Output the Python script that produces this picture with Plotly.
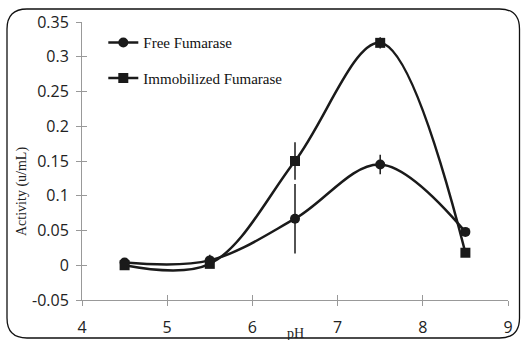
import plotly.graph_objects as go

ph = [4.5, 5.5, 6.5, 7.5, 8.5]
free_act = [0.004, 0.007, 0.067, 0.145, 0.048]
free_err = [0.002, 0.008, 0.05, 0.014, 0.003]
immo_act = [0.0, 0.002, 0.15, 0.32, 0.018]
immo_err = [0.002, 0.004, 0.027, 0.008, 0.002]
x_ticks = [4, 5, 6, 7, 8, 9]
y_ticks = [-0.05, 0, 0.05, 0.1, 0.15, 0.2, 0.25, 0.3, 0.35]
y_labels = ["-0.05", "0", "0.05", "0.1", "0.15", "0.2", "0.25", "0.3", "0.35"]

W, H = 521, 340
L, R, T, B = 82, 13, 22, 40
pw, ph_ = W - L - R, H - T - B

fig = go.Figure()
fig.add_trace(go.Scatter(
    x=ph, y=free_act, name="Free Fumarase", mode="lines+markers",
    line=dict(color="#1a1a1a", width=2.5, shape="spline", smoothing=1.0),
    marker=dict(symbol="circle", size=10, color="#1a1a1a"),
    error_y=dict(type="data", array=free_err, color="#1a1a1a", thickness=1.5, width=0),
    legendgroup="a",
))
fig.add_trace(go.Scatter(
    x=ph, y=immo_act, name="Immobilized Fumarase", mode="lines+markers",
    line=dict(color="#1a1a1a", width=2.5, shape="spline", smoothing=1.0),
    marker=dict(symbol="square", size=10, color="#1a1a1a"),
    error_y=dict(type="data", array=immo_err, color="#1a1a1a", thickness=1.5, width=0),
    legendgroup="b",
))
fig.add_trace(go.Scatter(x=[4], y=[0], xaxis="x2", yaxis="y2", mode="markers",
                         marker=dict(opacity=0), showlegend=False, hoverinfo="skip"))

def px2paper(x, y):
    return (x - L) / pw, (H - B - y) / ph_

def P(x, y):
    a, b = px2paper(x, y)
    return f"{a:.5f},{b:.5f}"

x0, y0, x1, y1, r = 7, 9, 519.5, 338, 20
path = (f"M {P(x0 + r, y0)} L {P(x1 - r, y0)} Q {P(x1, y0)} {P(x1, y0 + r)} "
        f"L {P(x1, y1 - r)} Q {P(x1, y1)} {P(x1 - r, y1)} "
        f"L {P(x0 + r, y1)} Q {P(x0, y1)} {P(x0, y1 - r)} "
        f"L {P(x0, y0 + r)} Q {P(x0, y0)} {P(x0 + r, y0)} Z")
fig.add_shape(type="path", path=path, xref="paper", yref="paper",
              line=dict(color="#111", width=1.3), layer="below")

tx, ty = px2paper(295, 333)
fig.add_annotation(x=tx, y=ty, xref="paper", yref="paper", text="pH", showarrow=False,
                   font=dict(family="Liberation Serif", size=14, color="#222"),
                   xanchor="center", yanchor="middle")
ax_, ay_ = px2paper(22, 192)
fig.add_annotation(x=ax_, y=ay_, xref="paper", yref="paper", text="Activity (u/mL)", showarrow=False,
                   textangle=-90, font=dict(family="Liberation Serif", size=14, color="#222"),
                   xanchor="center", yanchor="middle")

axis_common = dict(showgrid=False, zeroline=False, showline=True, linecolor="#999",
                   linewidth=1, tickcolor="#999", ticklen=5, tickwidth=1, automargin=False)
fig.update_layout(
    width=W, height=H, margin=dict(l=L, r=R, t=T, b=B, autoexpand=False),
    paper_bgcolor="white", plot_bgcolor="white",
    xaxis=dict(range=[4, 9], tickvals=x_ticks, ticks="outside", ticklabelstandoff=8,
               tickfont=dict(family="Open Sans", size=16, color="#222"),
               **axis_common),
    yaxis=dict(range=[-0.05, 0.35], tickvals=y_ticks, ticktext=y_labels, ticks="outside",
               ticklabelstandoff=4,
               tickfont=dict(family="Open Sans", size=16, color="#222"),
               **axis_common),
    xaxis2=dict(range=[4, 9], overlaying="x", tickvals=x_ticks, ticks="inside", showticklabels=False,
                showgrid=False, zeroline=False, showline=False, tickcolor="#999", ticklen=5),
    yaxis2=dict(range=[-0.05, 0.35], overlaying="y", tickvals=y_ticks, ticks="inside", showticklabels=False,
                showgrid=False, zeroline=False, showline=False, tickcolor="#999", ticklen=5),
    showlegend=True,
    legend=dict(x=0.05, y=0.985, xanchor="left", yanchor="top", bgcolor="rgba(0,0,0,0)",
                font=dict(family="Liberation Serif", size=15, color="#111"),
                tracegroupgap=13),
)
fig.write_html("out.html")
